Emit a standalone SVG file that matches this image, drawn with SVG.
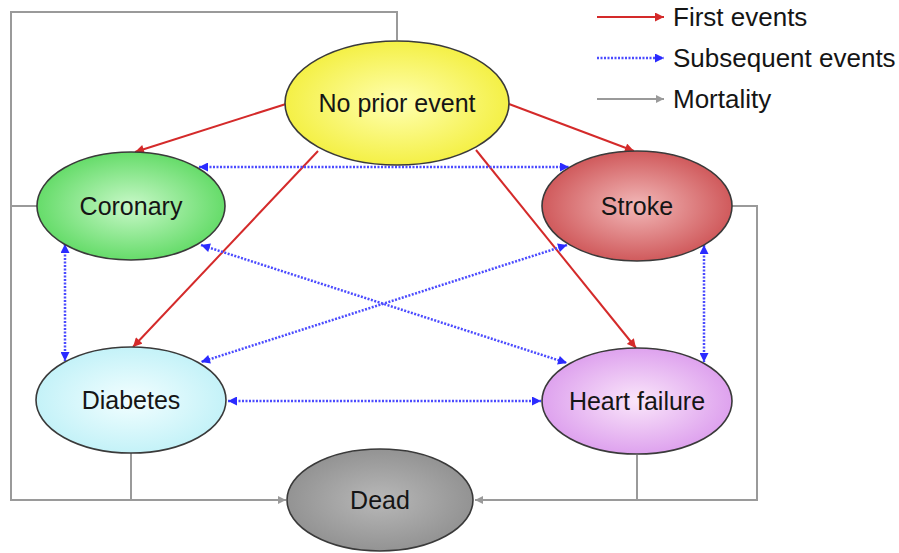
<svg xmlns="http://www.w3.org/2000/svg" width="899" height="553" viewBox="0 0 899 553">
<defs>
<style>
.red{stroke:#d42a2a;stroke-width:2;fill:none}
.blue{stroke:#4b4bff;stroke-width:2.5;stroke-dasharray:2 1.5;fill:none}
.gray{stroke:#9a9a9a;stroke-width:2;fill:none}
.node{stroke:#3a3a3a;stroke-width:1.6}
.lbl{font-family:"Liberation Sans",Arial,sans-serif;font-size:25px;fill:#151515;text-anchor:middle}
.leg{font-family:"Liberation Sans",Arial,sans-serif;font-size:26px;fill:#151515}
</style>
<marker id="ar" viewBox="0 0 10 10" refX="10" refY="5" markerUnits="userSpaceOnUse" markerWidth="10" markerHeight="9" orient="auto"><path d="M0,0 L10,5 L0,10 z" fill="#d42a2a"/></marker>
<marker id="ab" viewBox="0 0 10 10" refX="10" refY="5" markerUnits="userSpaceOnUse" markerWidth="10" markerHeight="9" orient="auto-start-reverse"><path d="M0,0 L10,5 L0,10 z" fill="#2b2bff"/></marker>
<marker id="ag" viewBox="0 0 10 10" refX="10" refY="5" markerUnits="userSpaceOnUse" markerWidth="10" markerHeight="8" orient="auto"><path d="M0,0 L10,5 L0,10 z" fill="#9a9a9a"/></marker>
<radialGradient id="gy"><stop offset="0" stop-color="#ffffb0"/><stop offset="1" stop-color="#f4f046"/></radialGradient>
<radialGradient id="gg"><stop offset="0" stop-color="#c8f8c8"/><stop offset="1" stop-color="#66dc6a"/></radialGradient>
<radialGradient id="gr"><stop offset="0" stop-color="#f2b8b8"/><stop offset="1" stop-color="#d05a5c"/></radialGradient>
<radialGradient id="gc"><stop offset="0" stop-color="#f2feff"/><stop offset="1" stop-color="#c4f2f8"/></radialGradient>
<radialGradient id="gp"><stop offset="0" stop-color="#fae6fa"/><stop offset="1" stop-color="#dea2ee"/></radialGradient>
<radialGradient id="gd"><stop offset="0" stop-color="#b8b8b8"/><stop offset="1" stop-color="#939393"/></radialGradient>
</defs>
<rect width="899" height="553" fill="#ffffff"/>
<g id="connectors">
<path class="gray" d="M397,40 V12 H11 V500 H286" marker-end="url(#ag)"/>
<path class="gray" d="M37,206 H11"/>
<path class="gray" d="M131,453 V500"/>
<path class="gray" d="M732,206 H757 V500 H475" marker-end="url(#ag)"/>
<path class="gray" d="M637,455 V500"/>
<line class="red" x1="286" y1="104" x2="135" y2="152" marker-end="url(#ar)"/>
<line class="red" x1="509" y1="104" x2="634" y2="151" marker-end="url(#ar)"/>
<line class="red" x1="318" y1="151" x2="133" y2="347" marker-end="url(#ar)"/>
<line class="red" x1="476" y1="150" x2="636" y2="348" marker-end="url(#ar)"/>
<line class="blue" x1="199" y1="167" x2="569" y2="167" marker-start="url(#ab)" marker-end="url(#ab)"/>
<line class="blue" x1="201" y1="245" x2="567" y2="363" marker-start="url(#ab)" marker-end="url(#ab)"/>
<line class="blue" x1="567" y1="245" x2="201" y2="362" marker-start="url(#ab)" marker-end="url(#ab)"/>
<line class="blue" x1="228" y1="401" x2="541" y2="401" marker-start="url(#ab)" marker-end="url(#ab)"/>
<line class="blue" x1="65" y1="244" x2="65" y2="361" marker-start="url(#ab)" marker-end="url(#ab)"/>
<line class="blue" x1="704" y1="245" x2="704" y2="362" marker-start="url(#ab)" marker-end="url(#ab)"/>
</g>
<g id="legend">
<line class="red" x1="597" y1="17" x2="664" y2="17" marker-end="url(#ar)"/>
<text class="leg" x="673" y="26">First events</text>
<line class="blue" x1="597" y1="58" x2="664" y2="58" marker-end="url(#ab)"/>
<text class="leg" x="673" y="67">Subsequent events</text>
<line class="gray" x1="597" y1="99" x2="664" y2="99" marker-end="url(#ag)"/>
<text class="leg" x="673" y="108">Mortality</text>
</g>
<g id="no-prior-event">
<ellipse class="node" cx="397" cy="103" rx="112" ry="62" fill="url(#gy)"/>
<text class="lbl" x="397" y="112">No prior event</text>
</g>
<g id="coronary">
<ellipse class="node" cx="131" cy="206" rx="94" ry="54" fill="url(#gg)"/>
<text class="lbl" x="131" y="215">Coronary</text>
</g>
<g id="stroke">
<ellipse class="node" cx="637" cy="206" rx="95" ry="55" fill="url(#gr)"/>
<text class="lbl" x="637" y="215">Stroke</text>
</g>
<g id="diabetes">
<ellipse class="node" cx="131" cy="400" rx="95" ry="53" fill="url(#gc)"/>
<text class="lbl" x="131" y="409">Diabetes</text>
</g>
<g id="heart-failure">
<ellipse class="node" cx="637" cy="401" rx="95" ry="53" fill="url(#gp)"/>
<text class="lbl" x="637" y="410">Heart failure</text>
</g>
<g id="dead">
<ellipse class="node" cx="380" cy="500" rx="93" ry="51" fill="url(#gd)"/>
<text class="lbl" x="380" y="509">Dead</text>
</g>
</svg>
